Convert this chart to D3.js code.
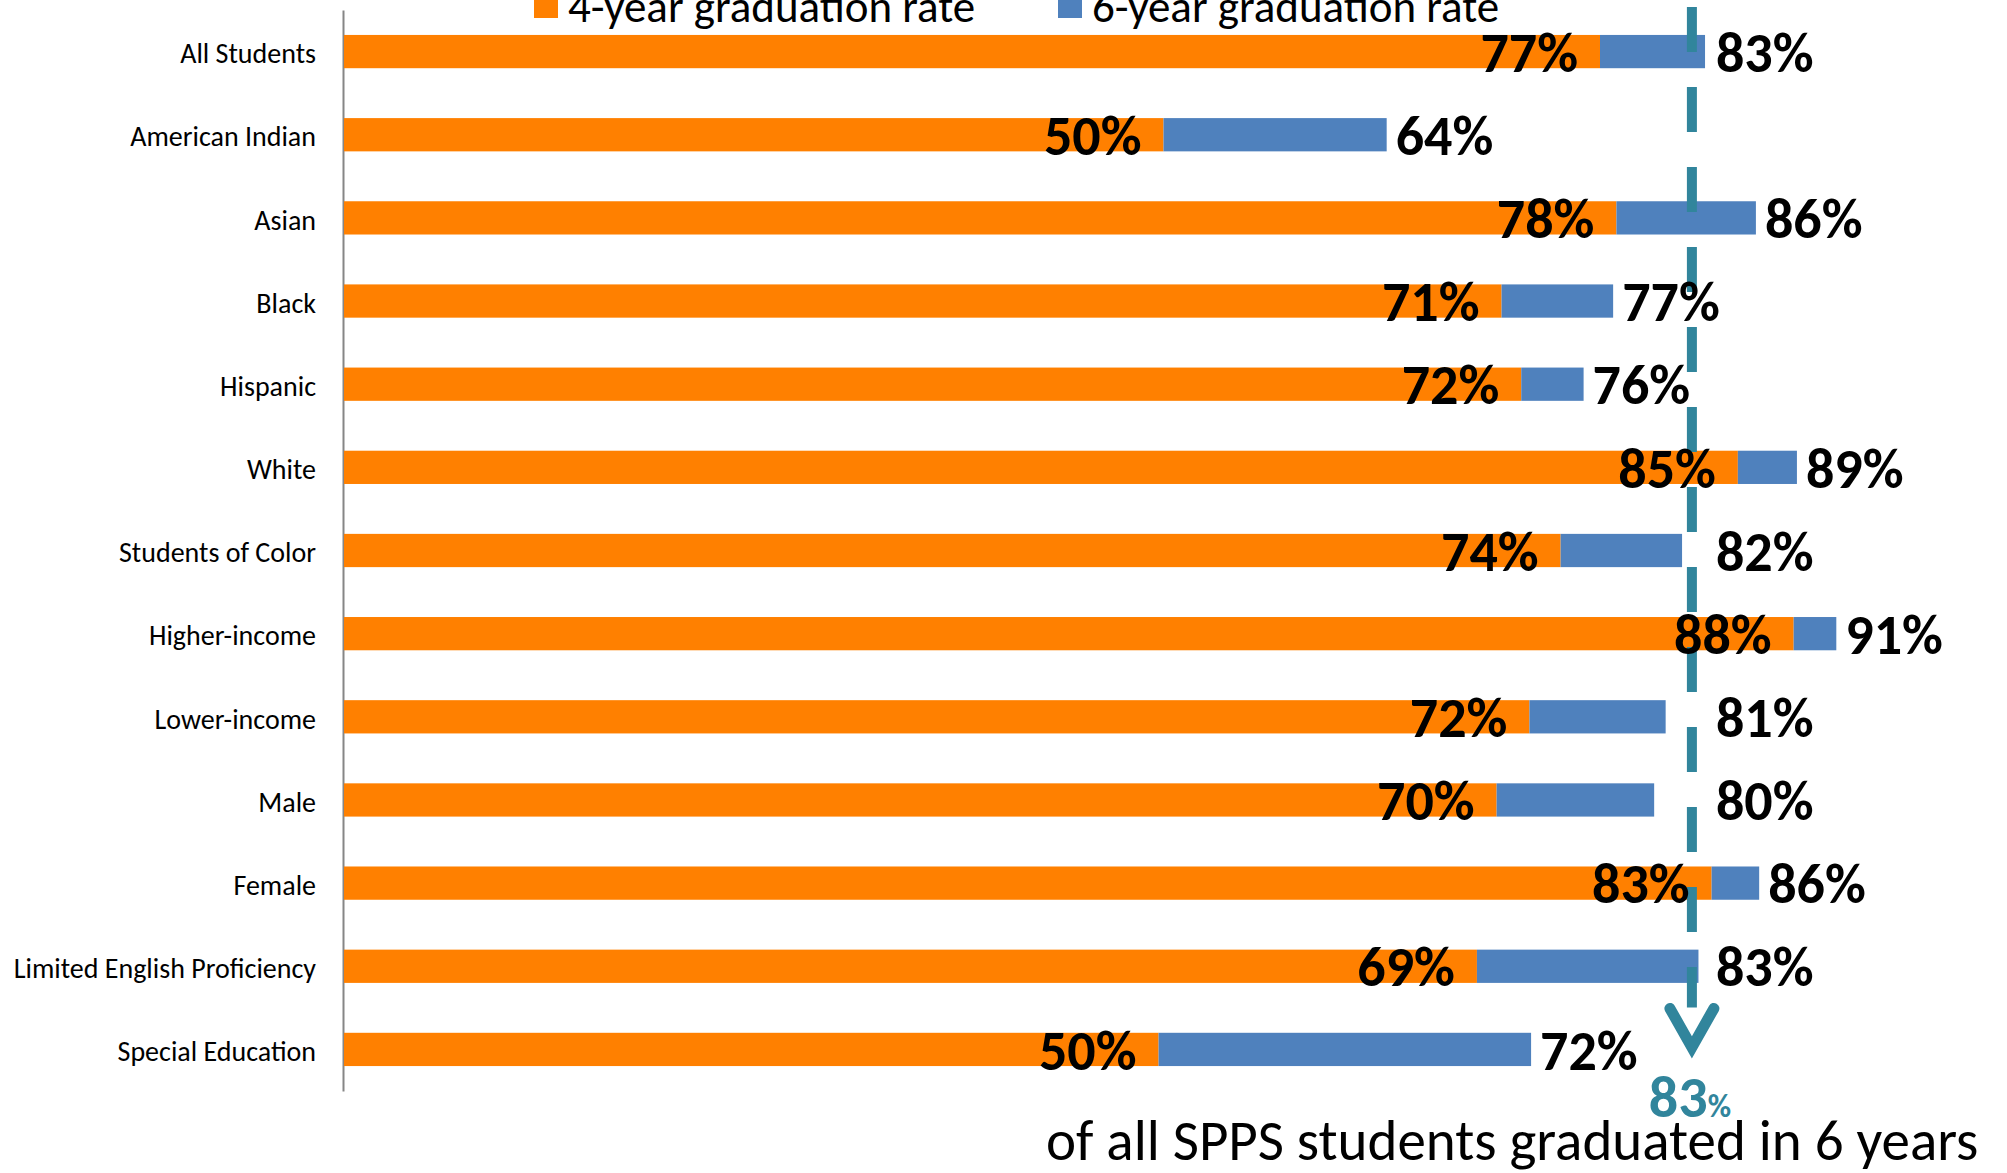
<!DOCTYPE html>
<meta charset="utf-8">
<head>
<script src="https://cdn.jsdelivr.net/npm/d3@7"></script>
<style>
  body { margin: 0; background: #fff; }
  svg { display: block; font-family: Carlito, Calibri, Lato, sans-serif; }
  .cat text { font-size: 28px; fill: #000; }
  .val { font-size: 56px; font-weight: bold; fill: #000; }
  .legend text { font-size: 45px; fill: #000; }
</style>
</head>
<body>
<svg id="chart"></svg>
<script>
  var categories = ["All Students", "American Indian", "Asian", "Black", "Hispanic", "White",
    "Students of Color", "Higher-income", "Lower-income", "Male", "Female",
    "Limited English Proficiency", "Special Education"];
  var rate4 = [76.6, 50.0, 77.6, 70.6, 71.8, 85.0, 74.2, 88.4, 72.3, 70.3, 83.4, 69.1, 49.7];
  var rate6 = [83.0, 63.6, 86.1, 77.4, 75.6, 88.6, 81.6, 91.0, 80.6, 79.9, 86.3, 82.6, 72.4];
  var seriesNames = ["4-year graduation rate", "6-year graduation rate"];
  var overall6 = 83;      // value shown under the arrow
  var refLine = 82.2;     // where the dashed marker sits
  var note = "of all SPPS students graduated in 6 years";

  var width = 2007, height = 1173;
  var colors = ["#FF8000", "#4F81BD"];
  var teal = "#31859C";

  var svg = d3.select("#chart").attr("width", width).attr("height", height);

  var x = d3.scaleLinear().domain([0, 100]).range([343, 1984]);
  var y = d3.scaleBand().domain(categories).range([10, 1091])
    .paddingInner(0.6).paddingOuter(0.3);

  var rows = categories.map((c, i) => ({ cat: c, r4: rate4[i], r6: rate6[i] }));

  // category axis
  var axis = svg.append("g")
    .attr("class", "cat")
    .attr("transform", "translate(" + x(0) + ",0)")
    .call(d3.axisLeft(y).tickSize(0).tickPadding(27))
    .attr("font-family", null)
    .attr("font-size", null);
  axis.select(".domain").attr("stroke", "#868686").attr("stroke-width", 2);
  axis.selectAll("text").attr("dy", "0.42em");

  // bars
  svg.append("g").selectAll("rect")
    .data(rows).enter().append("rect")
    .attr("x", x(0) + 1)
    .attr("y", d => y(d.cat))
    .attr("width", d => x(d.r4) - x(0) - 1)
    .attr("height", y.bandwidth())
    .attr("fill", colors[0]);

  svg.append("g").selectAll("rect")
    .data(rows).enter().append("rect")
    .attr("x", d => x(d.r4))
    .attr("y", d => y(d.cat))
    .attr("width", d => x(d.r6) - x(d.r4))
    .attr("height", y.bandwidth())
    .attr("fill", colors[1]);

  // dashed marker and arrow
  var lx = x(refLine);
  var last = categories[categories.length - 1];
  var tipY = y(last) + y.bandwidth() / 2;

  svg.append("line")
    .attr("x1", lx).attr("x2", lx)
    .attr("y1", y.range()[0] - 3).attr("y2", tipY - 42)
    .attr("stroke", teal).attr("stroke-width", 10)
    .attr("stroke-dasharray", "45,35");

  svg.append("path")
    .attr("d", d3.line()([[lx - 22, tipY - 41], [lx, tipY - 2], [lx + 22, tipY - 41]]))
    .attr("fill", "none").attr("stroke", teal).attr("stroke-width", 11)
    .attr("stroke-linecap", "round").attr("stroke-linejoin", "miter");

  // value labels
  var fmt = v => Math.round(v) + "%";

  svg.append("g").selectAll("text")
    .data(rows).enter().append("text")
    .attr("class", "val")
    .attr("x", d => x(d.r4) - 22)
    .attr("y", d => y(d.cat) + y.bandwidth() / 2)
    .attr("dy", "0.36em")
    .attr("text-anchor", "end")
    .text(d => fmt(d.r4));

  svg.append("g").selectAll("text")
    .data(rows).enter().append("text")
    .attr("class", "val")
    .attr("x", d => {
      var e = x(d.r6);
      if (e > lx - 45 && e < lx + 15) return Math.max(e + 10, lx + 24);
      return e + 9;
    })
    .attr("y", d => y(d.cat) + y.bandwidth() / 2)
    .attr("dy", "0.36em")
    .text(d => fmt(d.r6));

  // legend
  var legend = svg.append("g").attr("class", "legend");
  var legX = [534, 1058];
  seriesNames.forEach((s, i) => {
    legend.append("rect").attr("x", legX[i]).attr("y", -6)
      .attr("width", 24).attr("height", 24).attr("fill", colors[i]);
    legend.append("text").attr("x", legX[i] + 34).attr("y", 22).text(s);
  });

  // summary annotation
  var big = svg.append("text")
    .attr("x", lx - 2).attr("y", 1117)
    .attr("text-anchor", "middle")
    .attr("fill", teal).attr("font-weight", "bold")
    .attr("font-size", 58);
  big.append("tspan").text(overall6);
  big.append("tspan").attr("font-size", 32).text("%");

  svg.append("text")
    .attr("x", 1046).attr("y", 1160)
    .attr("font-size", 57).attr("fill", "#000")
    .text(note);
</script>
</body>
